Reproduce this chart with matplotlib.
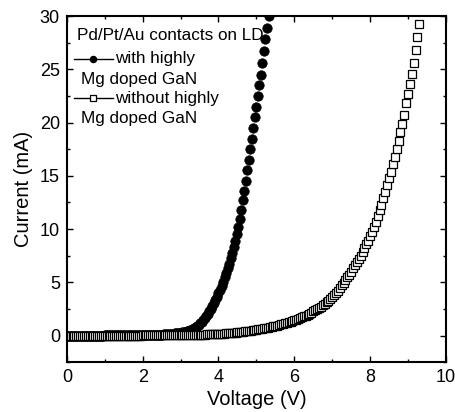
import numpy as np
import matplotlib
matplotlib.use("Agg")
import matplotlib.pyplot as plt
from matplotlib.ticker import MultipleLocator

plt.rcParams['font.family'] = ['Liberation Sans', 'DejaVu Sans']

# ---- data ----
# with highly Mg doped GaN (filled circles), voltage step 0.04 V from 0 V
v_step_with = 0.04
i_with = (
    [0.00] * 25 + [0.01] * 25 +
    [0.02, 0.02, 0.03, 0.03, 0.03, 0.04, 0.04, 0.05, 0.05, 0.06, 0.06, 0.07, 0.08,
     0.09, 0.10, 0.11, 0.12, 0.14, 0.15, 0.17, 0.18, 0.20, 0.21, 0.23, 0.24,
     0.26, 0.29, 0.32, 0.35, 0.39, 0.44, 0.50, 0.56, 0.63, 0.70, 0.78, 0.89,
     1.01, 1.15, 1.30, 1.47, 1.65, 1.85, 2.06, 2.29, 2.53, 2.79, 3.06, 3.35,
     3.66, 3.98, 4.32, 4.68, 5.05, 5.45, 5.85, 6.30, 6.75, 7.25, 7.75, 8.30,
     8.90, 9.50, 10.20, 10.95, 11.80, 12.70, 13.60, 14.50, 15.50, 16.50, 17.50,
     18.50, 19.50, 20.50, 21.50, 22.50, 23.50, 24.50, 25.60, 26.70, 27.80,
     28.90, 30.00]
)
v_with = np.arange(len(i_with)) * v_step_with

# without highly Mg doped GaN (open squares), voltage step 0.05 V from 0 V
v_step_without = 0.05
i_without = (
    [0.00] * 40 + [0.01] * 20 +
    [0.02, 0.02, 0.03, 0.03, 0.04, 0.04, 0.05, 0.05, 0.06, 0.06,
     0.07, 0.08, 0.08, 0.09, 0.10, 0.10, 0.11, 0.12, 0.13, 0.14,
     0.15, 0.16, 0.17, 0.18, 0.20, 0.21, 0.23, 0.24, 0.26, 0.28,
     0.30, 0.32, 0.34, 0.36, 0.39, 0.41, 0.44, 0.46, 0.49, 0.52,
     0.55, 0.58, 0.61, 0.64, 0.67, 0.71, 0.74, 0.78, 0.82, 0.86,
     0.90, 0.94, 0.99, 1.04, 1.09, 1.14, 1.19, 1.25, 1.31, 1.37,
     1.43, 1.50, 1.57, 1.64, 1.72, 1.80, 1.88, 1.97, 2.06, 2.16,
     2.26, 2.37, 2.48, 2.60, 2.72, 2.85, 2.98, 3.12, 3.27, 3.42,
     3.60, 3.80, 4.00, 4.20, 4.45, 4.70, 4.95, 5.20, 5.45, 5.70,
     6.00, 6.30, 6.60, 6.90, 7.20, 7.50, 7.85, 8.20, 8.55, 8.90,
     9.30, 9.70, 10.20, 10.70, 11.20, 11.75, 12.30, 12.90, 13.50, 14.10,
     14.75, 15.40, 16.10, 16.80, 17.55, 18.30, 19.10, 19.90, 20.75, 21.80,
     22.70, 23.60, 24.60, 25.60, 26.80, 28.00, 29.30, 30.60]
)
v_without = np.arange(len(i_without)) * v_step_without

title_text = "Pd/Pt/Au contacts on LD"
labels_first = ["with highly", "without highly"]
labels_second = ["Mg doped GaN", "Mg doped GaN"]

# ---- figure ----
fig = plt.figure(figsize=(4.55, 4.12), dpi=100)
ax = fig.add_axes([0.147, 0.121, 0.833, 0.840])

ax.plot(v_with, i_with, linestyle='none', marker='o', markersize=6.8,
        markerfacecolor='black', markeredgecolor='black', markeredgewidth=0.5)
ax.plot(v_without, i_without, linestyle='none', marker='s', markersize=6.2,
        markerfacecolor='white', markeredgecolor='black', markeredgewidth=0.9)

ax.set_xlim(0, 10)
ax.set_ylim(-2.5, 30)
ax.xaxis.set_major_locator(MultipleLocator(2))
ax.xaxis.set_minor_locator(MultipleLocator(1))
ax.yaxis.set_major_locator(MultipleLocator(5))
ax.yaxis.set_minor_locator(MultipleLocator(2.5))
ax.tick_params(which='both', direction='in', top=True, right=True,
               labelsize=13, width=1.0)
ax.tick_params(which='major', length=4.5, pad=5)
ax.tick_params(which='minor', length=2.5)
for s in ax.spines.values():
    s.set_linewidth(1.5)

ax.set_xlabel("Voltage (V)", fontsize=14.5, labelpad=3)
ax.set_ylabel("Current (mA)", fontsize=14.5, labelpad=5)

# ---- legend drawn in axes coordinates ----
lfs = 12.3
ax.text(0.026, 0.945, title_text, transform=ax.transAxes, fontsize=lfs,
        ha='left', va='center')
line_y = [0.877, 0.763]
text2_y = [0.818, 0.705]
markers = [dict(marker='o', markerfacecolor='black', markersize=4.5),
           dict(marker='s', markerfacecolor='white', markersize=4.5)]
for k in range(2):
    ax.plot([0.018, 0.121], [line_y[k], line_y[k]], transform=ax.transAxes,
            color='black', linewidth=1.0, clip_on=False)
    ax.plot([0.070], [line_y[k]], transform=ax.transAxes, linestyle='none',
            markeredgecolor='black', markeredgewidth=0.9, clip_on=False,
            **markers[k])
    ax.text(0.127, line_y[k], labels_first[k], transform=ax.transAxes,
            fontsize=lfs, ha='left', va='center')
    ax.text(0.037, text2_y[k], labels_second[k], transform=ax.transAxes,
            fontsize=lfs, ha='left', va='center')

fig.savefig("out.png", dpi=100)
